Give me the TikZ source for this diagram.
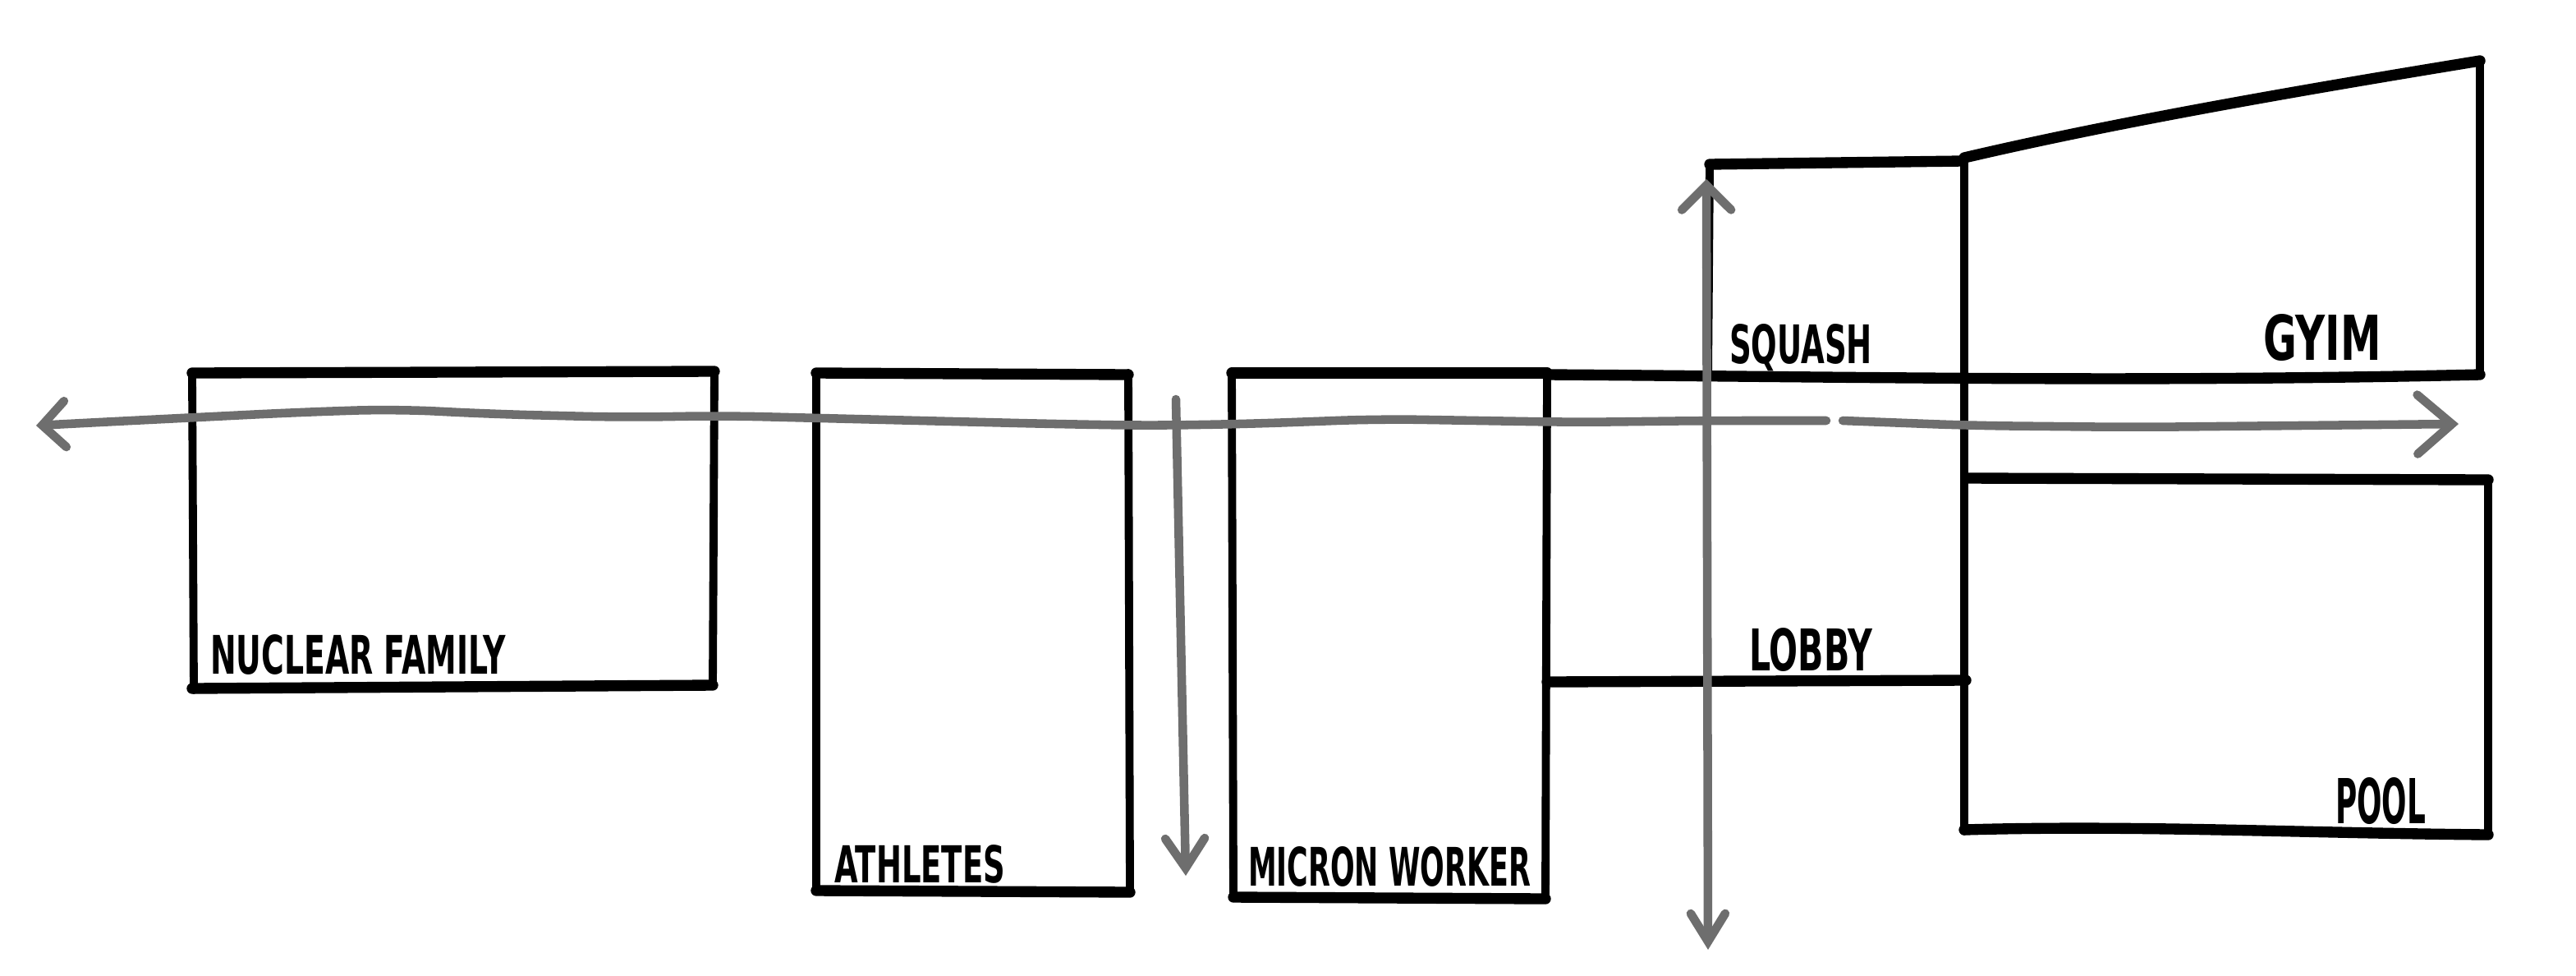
\documentclass[tikz,border=0pt]{standalone}
\usepackage{fontspec}
\setmainfont{DejaVu Sans}
\usetikzlibrary{arrows.meta}
\definecolor{flowgray}{HTML}{6E6E6E}
\newcommand{\roomlabel}[3]{\resizebox{#1}{#2}{\bfseries #3}}
\begin{document}
\begin{tikzpicture}[x=0.02cm,y=-0.02cm,
  wall/.style={line width=2.8pt,line cap=round,line join=round,black},
  heavy/.style={line width=3.8pt,line cap=round,line join=round,black},
  flow/.style={line width=3pt,line cap=round,line join=round,draw=flowgray,rounded corners=14pt},
  lbl/.style={anchor=base west,inner sep=0pt,outer sep=0pt,text=black}]
\useasboundingbox (0,0) rectangle (1568.5,593.5);

% ---------- Nuclear family ----------
\draw[wall] (117,228) -- (118,420);
\draw[wall] (435,226) -- (434,416);
\draw[heavy] (117,227) -- (435,226);
\draw[heavy] (117,419) -- (434,417);
\node[lbl] (nf) at (128,410) {\roomlabel{3.6cm}{0.48cm}{NUCLEAR FAMILY}};

% ---------- Athletes ----------
\draw[wall] (497,228) -- (497,542);
\draw[wall] (687,227) -- (688,542);
\draw[heavy] (497,227) -- (687,228);
\draw[heavy] (497,542) -- (688,543);
\node[lbl] (ath) at (508,537) {\roomlabel{2.08cm}{0.46cm}{ATHLETES}};

% ---------- Micron worker ----------
\draw[wall] (750,228) -- (751,546);
\draw[wall] (942,228) -- (941,546);
\draw[heavy] (750,227) -- (942,227);
\draw[heavy] (751,546) -- (941,547);
\node[lbl] (mw) at (760,539) {\roomlabel{3.44cm}{0.48cm}{MICRON WORKER}};

% ---------- Lobby / corridor ----------
\draw[heavy] (942,228) .. controls (1100,229) and (1300,233) .. (1510,228);
\draw[heavy] (942,415) -- (1197,414);
\node[lbl] (lob) at (1065,408) {\roomlabel{1.5cm}{0.52cm}{LOBBY}};

% ---------- Squash ----------
\draw[wall] (1041,100) -- (1040,229);
\draw[heavy] (1041,100) -- (1195,98);
\node[lbl] (sq) at (1053,221) {\roomlabel{1.74cm}{0.48cm}{SQUASH}};

% ---------- divider ----------
\draw[wall] (1196,96) -- (1196,506);

% ---------- Gym ----------
\draw[heavy] (1196,96) .. controls (1290,74) and (1400,55) .. (1510,37);
\draw[wall] (1510,37) -- (1510,226);
\node[lbl] (gym) at (1378,219) {\roomlabel{1.44cm}{0.56cm}{GYIM}};

% ---------- Pool ----------
\draw[heavy] (1197,291) -- (1515,292);
\draw[wall] (1515,292) -- (1515,508);
\draw[heavy] (1196,505) .. controls (1300,502) and (1400,507) .. (1515,508);
\node[lbl] (pool) at (1422,501) {\roomlabel{1.1cm}{0.56cm}{POOL}};

% ---------- circulation arrows ----------
\coordinate (hL) at (22,259);
\coordinate (gapL) at (1112,256);
\coordinate (gapR) at (1122,256);
\coordinate (hR) at (1497,258);
\coordinate (dTop) at (716,243);
\coordinate (dBot) at (722,533);
\coordinate (vTop) at (1039,109);
\coordinate (vBot) at (1040,578);

\draw[flow,-{Straight Barb[length=0.28cm,width=0.56cm,line cap=round]}]
  (gapL) -- (1040,256) -- (960,257) -- (900,256) -- (840,255) -- (760,258)
  -- (700,259) -- (640,258) -- (560,256) -- (440,253) -- (380,254)
  -- (300,252) -- (240,249) -- (180,251) -- (120,254) -- (60,257) -- (hL);
\draw[flow,-{Straight Barb[length=0.42cm,width=0.72cm,line cap=round]}]
  (gapR) -- (1200,259) -- (1300,260) -- (1400,259) -- (hR);
\draw[flow,-{Straight Barb[length=0.36cm,width=0.48cm,line cap=round]}]
  (dTop) -- (dBot);
\draw[flow,{Straight Barb[length=0.3cm,width=0.6cm,line cap=round]}-{Straight Barb[length=0.34cm,width=0.42cm,line cap=round]}]
  (vTop) -- (vBot);
\end{tikzpicture}
\end{document}
